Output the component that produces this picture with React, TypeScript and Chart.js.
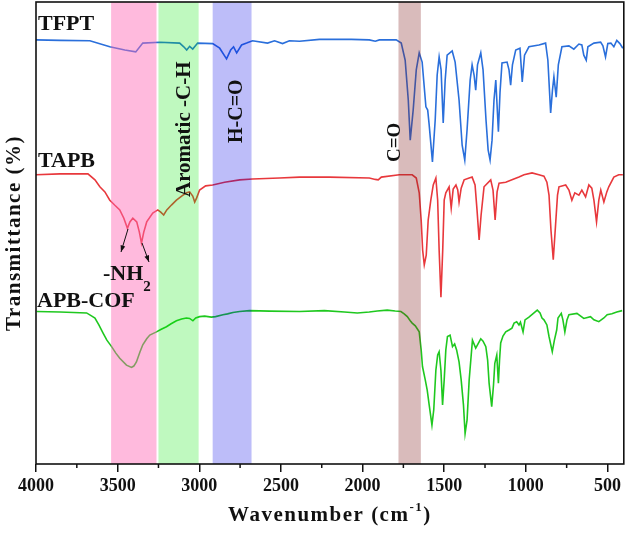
import React, { useEffect, useRef } from 'react';
import { Chart, registerables } from 'chart.js';

Chart.register(...registerables);

// wavenumber (cm-1) and stacked transmittance (arbitrary units, offset per curve)
const tfptWn = [4000, 3853, 3670, 3548, 3456, 3389, 3346, 3242, 3120, 3095, 3077, 3059, 3040, 3010, 2918, 2875, 2833, 2808, 2790, 2771, 2741, 2710, 2674, 2582, 2539, 2490, 2448, 2386, 2264, 2142, 2069, 1959, 1922, 1897, 1794, 1763, 1739, 1720, 1708, 1690, 1671, 1653, 1635, 1612, 1601, 1592, 1572, 1555, 1543, 1531, 1519, 1506, 1494, 1482, 1451, 1433, 1409, 1390, 1374, 1360, 1341, 1329, 1317, 1307, 1296, 1276, 1262, 1244, 1231, 1219, 1207, 1195, 1184, 1168, 1158, 1146, 1115, 1103, 1093, 1082, 1062, 1036, 1022, 1008, 981, 920, 879, 865, 848, 837, 828, 814, 801, 779, 736, 706, 675, 657, 645, 630, 620, 583, 542, 528, 512, 498, 479, 461, 443, 424, 406];
const tfptT = [91.8, 91.7, 91.6, 90.3, 89.6, 89.2, 91.1, 91.3, 91.1, 90.3, 89.6, 90.4, 89.8, 91.1, 91.0, 90.0, 87.7, 89.6, 90.3, 89.0, 90.7, 91.1, 91.6, 91.1, 91.6, 91.0, 91.6, 91.5, 91.9, 91.9, 91.9, 91.8, 91.5, 91.8, 91.8, 91.1, 87.4, 78.8, 70.1, 76.6, 85.3, 89.0, 87.0, 77.3, 76.6, 73.4, 65.4, 74.5, 84.2, 88.1, 85.3, 73.8, 83.1, 88.5, 89.4, 87.0, 78.8, 69.0, 65.8, 72.3, 83.1, 86.4, 84.2, 80.9, 86.4, 89.0, 85.3, 74.5, 68.0, 65.8, 70.1, 78.8, 83.1, 71.9, 80.5, 86.8, 87.0, 85.3, 82.0, 86.4, 89.6, 90.0, 82.7, 88.5, 90.3, 90.7, 91.1, 87.4, 76.0, 80.9, 83.8, 79.4, 86.4, 90.3, 90.5, 89.8, 90.9, 90.7, 88.5, 87.4, 90.3, 91.1, 91.3, 90.5, 88.1, 91.0, 91.1, 90.3, 91.7, 91.0, 90.0];

const tapbWn = [4000, 3853, 3682, 3639, 3609, 3578, 3548, 3517, 3487, 3462, 3440, 3425, 3407, 3383, 3367, 3354, 3340, 3322, 3285, 3254, 3236, 3218, 3199, 3169, 3140, 3108, 3079, 3059, 3040, 3028, 3016, 2998, 2961, 2918, 2845, 2753, 2674, 2509, 2386, 2203, 1959, 1922, 1904, 1885, 1775, 1696, 1671, 1653, 1641, 1632, 1622, 1610, 1598, 1582, 1567, 1551, 1540, 1531, 1520, 1509, 1500, 1490, 1470, 1457, 1445, 1428, 1417, 1409, 1396, 1378, 1347, 1329, 1311, 1299, 1286, 1274, 1256, 1215, 1201, 1188, 1176, 1164, 1123, 1085, 1042, 1011, 962, 920, 889, 871, 858, 846, 832, 818, 806, 797, 756, 736, 718, 700, 675, 657, 634, 614, 596, 583, 567, 553, 541, 522, 504, 492, 461, 431, 406];
const tapbT = [62.6, 62.8, 62.8, 61.5, 60.0, 58.9, 57.1, 56.0, 55.0, 53.2, 51.0, 52.4, 53.2, 52.4, 50.2, 47.8, 50.2, 52.4, 54.3, 55.0, 54.5, 53.9, 55.0, 56.1, 57.1, 58.0, 58.7, 58.9, 58.0, 56.7, 57.6, 59.3, 60.2, 60.4, 61.0, 61.5, 61.7, 61.9, 62.1, 62.1, 61.9, 61.6, 61.5, 62.1, 62.6, 62.6, 61.9, 58.7, 52.8, 46.3, 43.1, 45.2, 52.8, 57.1, 60.4, 61.9, 57.1, 46.3, 36.1, 46.3, 57.1, 58.7, 60.0, 55.4, 59.5, 60.4, 59.3, 56.7, 59.7, 61.5, 61.9, 62.1, 60.4, 55.0, 48.5, 53.9, 60.0, 61.5, 59.3, 52.8, 58.9, 60.8, 61.0, 61.5, 62.1, 62.6, 63.0, 62.6, 62.3, 61.0, 58.2, 50.6, 44.2, 51.7, 58.2, 60.0, 60.4, 59.3, 57.1, 58.7, 58.2, 59.3, 57.8, 60.4, 59.7, 57.1, 52.4, 57.1, 59.3, 56.7, 58.9, 60.0, 62.1, 62.6, 62.6];

const cofWn = [3996, 3853, 3690, 3658, 3639, 3615, 3590, 3566, 3537, 3511, 3487, 3446, 3415, 3401, 3385, 3364, 3346, 3322, 3303, 3262, 3236, 3201, 3175, 3140, 3108, 3079, 3059, 3039, 3022, 2998, 2967, 2926, 2900, 2855, 2827, 2794, 2753, 2692, 2570, 2386, 2234, 2111, 2032, 1959, 1910, 1849, 1800, 1765, 1745, 1726, 1708, 1696, 1677, 1653, 1641, 1633, 1616, 1604, 1592, 1575, 1564, 1551, 1540, 1531, 1520, 1510, 1500, 1490, 1480, 1464, 1449, 1436, 1424, 1409, 1396, 1382, 1372, 1360, 1347, 1337, 1327, 1307, 1276, 1262, 1245, 1234, 1225, 1209, 1198, 1190, 1178, 1168, 1161, 1154, 1140, 1123, 1103, 1085, 1072, 1056, 1042, 1033, 1017, 1005, 981, 950, 930, 913, 901, 889, 871, 858, 838, 825, 811, 803, 783, 773, 761, 748, 736, 687, 645, 604, 583, 553, 522, 502, 473, 443, 410];
const cofT = [33.0, 32.9, 32.7, 32.0, 31.6, 30.1, 28.4, 26.8, 25.4, 24.0, 22.9, 21.4, 20.9, 21.2, 22.1, 24.2, 25.8, 27.1, 27.9, 28.6, 29.1, 29.7, 30.3, 31.0, 31.4, 31.6, 31.5, 31.0, 31.6, 31.9, 32.0, 31.8, 31.9, 32.3, 32.5, 32.8, 33.0, 33.2, 33.1, 33.0, 33.2, 32.9, 32.7, 32.9, 33.1, 33.3, 33.1, 33.0, 32.5, 31.9, 31.0, 30.5, 29.9, 28.6, 24.7, 21.1, 18.2, 16.0, 12.8, 8.4, 11.7, 20.3, 23.6, 24.3, 20.3, 12.8, 18.2, 24.7, 27.6, 27.9, 25.4, 26.0, 24.7, 22.1, 18.2, 12.8, 6.6, 9.5, 18.2, 22.5, 26.8, 25.1, 27.1, 26.6, 25.4, 22.5, 17.5, 12.4, 17.1, 21.8, 23.6, 17.5, 22.5, 26.2, 27.7, 28.6, 29.0, 29.4, 30.5, 30.8, 30.1, 30.7, 28.6, 31.2, 31.8, 32.7, 33.3, 32.7, 31.6, 31.2, 30.1, 27.6, 24.3, 26.8, 29.0, 31.6, 32.6, 31.2, 28.6, 31.2, 32.3, 32.6, 31.5, 31.9, 31.2, 30.8, 31.6, 32.3, 32.5, 32.9, 33.2];

const xTicks = [4000, 3500, 3000, 2500, 2000, 1500, 1000, 500];
const xMinorTicks = [3750, 3250, 2750, 2250, 1750, 1250, 750];

// highlighted absorption bands
const bandFrom = [3540, 3250, 2918, 1780];
const bandTo = [3262, 3004, 2680, 1643];
const bandColors = ['rgba(255,105,180,0.46)', 'rgba(0,230,0,0.25)', 'rgba(0,0,230,0.26)', 'rgba(130,30,30,0.3)'];

const SERIF = '"Liberation Serif", "Times New Roman", serif';

const decorPlugin = {
  id: 'decor',
  afterDatasetsDraw(chart: any) {
    const { ctx, chartArea, scales } = chart;
    const x = scales.x;
    ctx.save();
    bandFrom.forEach((from, i) => {
      const x1 = x.getPixelForValue(from);
      const x2 = x.getPixelForValue(bandTo[i]);
      ctx.fillStyle = bandColors[i];
      ctx.fillRect(x1, chartArea.top, x2 - x1, chartArea.bottom - chartArea.top);
    });
    ctx.restore();
  },
  afterDraw(chart: any) {
    const { ctx, chartArea, scales } = chart;
    const x = scales.x;
    ctx.save();
    // frame
    ctx.strokeStyle = '#111';
    ctx.lineWidth = 1.6;
    ctx.strokeRect(chartArea.left, chartArea.top, chartArea.right - chartArea.left, chartArea.bottom - chartArea.top);
    // minor ticks
    ctx.lineWidth = 1.5;
    xMinorTicks.forEach((v) => {
      const px = x.getPixelForValue(v);
      ctx.beginPath();
      ctx.moveTo(px, chartArea.bottom);
      ctx.lineTo(px, chartArea.bottom + 4);
      ctx.stroke();
    });

    ctx.fillStyle = '#111';
    ctx.textAlign = 'left';
    ctx.textBaseline = 'alphabetic';
    ctx.font = `bold 22px ${SERIF}`;
    ctx.fillText('TFPT', 38, 30);
    ctx.fillText('TAPB', 38, 167);
    ctx.fillText('APB-COF', 37, 307);

    ctx.fillText('-NH', 103, 280);
    const nhW = ctx.measureText('-NH').width;
    ctx.font = `bold 15px ${SERIF}`;
    ctx.fillText('2', 103 + nhW, 291);

    // arrows to the NH2 peaks
    const arrow = (x1: number, y1: number, x2: number, y2: number) => {
      ctx.strokeStyle = '#111';
      ctx.lineWidth = 1;
      ctx.beginPath();
      ctx.moveTo(x1, y1);
      ctx.lineTo(x2, y2);
      ctx.stroke();
      const a = Math.atan2(y2 - y1, x2 - x1);
      ctx.beginPath();
      ctx.moveTo(x2, y2);
      ctx.lineTo(x2 - 7 * Math.cos(a - 0.35), y2 - 7 * Math.sin(a - 0.35));
      ctx.lineTo(x2 - 7 * Math.cos(a + 0.35), y2 - 7 * Math.sin(a + 0.35));
      ctx.closePath();
      ctx.fill();
    };
    arrow(128, 229, 121, 252);
    arrow(142, 243, 149, 262);

    const vtext = (t: string, bx: number, by: number, size: number) => {
      ctx.save();
      ctx.translate(bx, by);
      ctx.rotate(-Math.PI / 2);
      ctx.font = `bold ${size}px ${SERIF}`;
      ctx.textAlign = 'left';
      ctx.fillText(t, 0, 0);
      ctx.restore();
    };
    vtext('Aromatic -C-H', 190, 197, 21);
    vtext('H-C=O', 242, 143, 20);
    vtext('C=O', 400, 162, 19);

    // axis titles
    ctx.save();
    ctx.font = `bold 21px ${SERIF}`;
    (ctx as any).letterSpacing = '1.5px';
    ctx.textAlign = 'center';
    ctx.translate(20, (chartArea.top + chartArea.bottom) / 2);
    ctx.rotate(-Math.PI / 2);
    ctx.fillText('Transmittance (%)', 0, 0);
    ctx.restore();

    ctx.save();
    (ctx as any).letterSpacing = '1.5px';
    ctx.font = `bold 21px ${SERIF}`;
    const main = 'Wavenumber (cm';
    const sup = '-1';
    const tail = ')';
    const w1 = ctx.measureText(main).width;
    const w3 = ctx.measureText(tail).width;
    ctx.font = `bold 13px ${SERIF}`;
    const w2 = ctx.measureText(sup).width;
    const cx = (chartArea.left + chartArea.right) / 2;
    let sx = cx - (w1 + w2 + w3) / 2;
    ctx.textAlign = 'left';
    ctx.font = `bold 21px ${SERIF}`;
    ctx.fillText(main, sx, 521);
    sx += w1;
    ctx.font = `bold 13px ${SERIF}`;
    ctx.fillText(sup, sx, 511);
    sx += w2;
    ctx.font = `bold 21px ${SERIF}`;
    ctx.fillText(tail, sx, 521);
    ctx.restore();

    ctx.restore();
  },
};

const App: React.FC = () => {
  const canvasRef = useRef<HTMLCanvasElement>(null);

  useEffect(() => {
    document.body.style.margin = '0';
    let chart: Chart | null = null;
    if (canvasRef.current) {
      const toPts = (wn: number[], t: number[]) => wn.map((v, i) => ({ x: v, y: t[i] }));
      chart = new Chart(canvasRef.current, {
        type: 'line',
        data: {
          datasets: [
            { label: 'TFPT', data: toPts(tfptWn, tfptT), borderColor: '#2a6fdb' },
            { label: 'TAPB', data: toPts(tapbWn, tapbT), borderColor: '#e8383c' },
            { label: 'APB-COF', data: toPts(cofWn, cofT), borderColor: '#1fc81f' },
          ],
        },
        options: {
          animation: false,
          responsive: false,
          elements: {
            line: { borderWidth: 1.6, tension: 0 },
            point: { radius: 0 },
          },
          layout: { padding: { left: 0, right: 1, top: 2, bottom: 0 } },
          plugins: {
            legend: { display: false },
            tooltip: { enabled: false },
          },
          scales: {
            x: {
              type: 'linear',
              reverse: true,
              min: 400,
              max: 4000,
              border: { display: false },
              grid: { drawOnChartArea: false, drawTicks: true, tickLength: 8, color: '#111', lineWidth: 1.5 },
              ticks: {
                color: '#111',
                font: { family: SERIF, size: 18, weight: 'bold' },
                padding: 4,
                autoSkip: false,
                maxRotation: 0,
                callback: (v: any) => String(v),
              },
              afterBuildTicks: (scale: any) => {
                scale.ticks = xTicks.map((v) => ({ value: v }));
              },
              afterFit: (scale: any) => {
                scale.height = 76;
              },
            },
            y: {
              min: 0,
              max: 100,
              border: { display: false },
              grid: { display: false },
              ticks: { display: false },
              afterFit: (scale: any) => {
                scale.width = 36;
              },
            },
          },
        },
        plugins: [decorPlugin],
      });
    }
    return () => {
      if (chart) chart.destroy();
    };
  }, []);

  return (
    <div style={{ width: 625, height: 540, background: '#fff' }}>
      <canvas ref={canvasRef} width={625} height={540} />
    </div>
  );
};

export default App;
